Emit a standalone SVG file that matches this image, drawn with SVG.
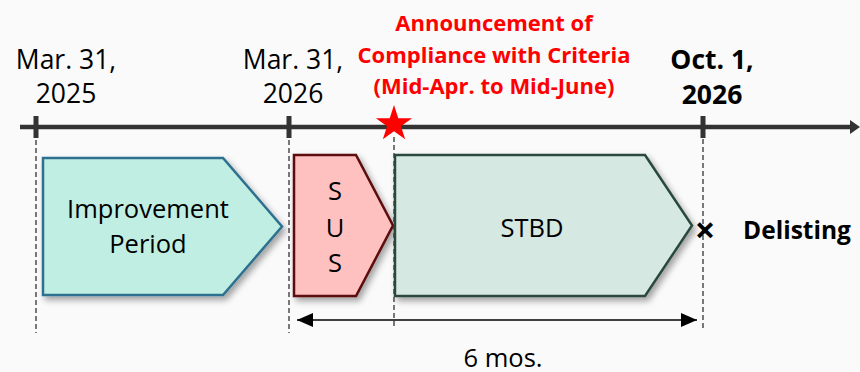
<svg xmlns="http://www.w3.org/2000/svg" width="860" height="372" viewBox="0 0 860 372">
<defs>
<style>
.t{font-family:"Open Sans","Liberation Sans",sans-serif;font-size:25.5px;fill:#000;text-anchor:middle}
.b{font-weight:bold}
.d{font-size:26.5px}
.red{fill:#ff0000;font-weight:bold;font-size:22px}
.dash{stroke:#222;stroke-width:1.2;stroke-dasharray:5 3;fill:none}
.tick{stroke:#333;stroke-width:5}
</style>
<filter id="sh" x="-10%" y="-10%" width="130%" height="130%">
<feDropShadow dx="3" dy="4" stdDeviation="3" flood-color="#000" flood-opacity="0.35"/>
</filter>
<marker id="dim" viewBox="0 0 16 14" refX="16" refY="7" markerWidth="16" markerHeight="14" markerUnits="userSpaceOnUse" orient="auto-start-reverse">
<path d="M0,0 L16,7 L0,14 z" fill="#000"/>
</marker>
</defs>
<rect width="860" height="372" fill="#fafafa"/>

<g id="axis">
<line x1="20" y1="127" x2="852" y2="127" stroke="#333" stroke-width="4.5"/>
<path d="M850,120 L860,127 L850,134 z" fill="#333"/>
<line class="tick" x1="36" y1="116" x2="36" y2="138"/>
<line class="tick" x1="289" y1="116" x2="289" y2="138"/>
<line class="tick" x1="703" y1="116" x2="703" y2="138"/>
</g>

<g id="guides">
<line class="dash" x1="36" y1="140" x2="36" y2="333"/>
<line class="dash" x1="289" y1="140" x2="289" y2="333"/>
<line class="dash" x1="394" y1="137" x2="394" y2="328"/>
<line class="dash" x1="703" y1="139" x2="703" y2="328"/>
</g>

<g id="label-2025">
<text class="t d" x="66" y="69">Mar. 31,</text>
<text class="t d" x="66" y="103">2025</text>
</g>
<g id="label-2026">
<text class="t d" x="293" y="69">Mar. 31,</text>
<text class="t d" x="293" y="103">2026</text>
</g>
<g id="label-oct">
<text class="t b d" x="712" y="69">Oct. 1,</text>
<text class="t b d" x="712" y="104">2026</text>
</g>
<g id="announcement">
<text class="t red" x="494" y="31">Announcement of</text>
<text class="t red" x="494" y="63">Compliance with Criteria</text>
<text class="t red" x="494" y="94">(Mid-Apr. to Mid-June)</text>
<polygon points="394,105 398.27,118.13 412.07,118.13 400.9,126.24 405.17,139.37 394,131.26 382.83,139.37 387.1,126.24 375.93,118.13 389.73,118.13" fill="#ff0000"/>
</g>

<g id="improvement">
<polygon points="43,158 223,158 282,226.5 223,295 43,295" fill="#c0eee2" stroke="#2d7090" stroke-width="2.5" filter="url(#sh)"/>
<text class="t" x="148" y="218">Improvement</text>
<text class="t" x="148" y="253">Period</text>
</g>

<g id="sus">
<polygon points="294,155 356,155 393,225.5 356,296 294,296" fill="#ffc0c0" stroke="#5c0b0b" stroke-width="2.5" filter="url(#sh)"/>
<text class="t" x="335" y="200">S</text>
<text class="t" x="335" y="237">U</text>
<text class="t" x="335" y="272">S</text>
</g>

<g id="stbd">
<polygon points="395,155 645,155 692,225.5 645,296 395,296" fill="#d5e8e2" stroke="#2c4a3e" stroke-width="2.5" filter="url(#sh)"/>
<text class="t" x="532" y="237">STBD</text>
</g>

<g id="delisting">
<text class="t b" x="705" y="243" style="font-size:36px">×</text>
<text class="t b" x="797" y="239" style="font-size:24.5px">Delisting</text>
</g>

<g id="connectors">
<line x1="297" y1="320" x2="697" y2="320" stroke="#000" stroke-width="1.5" marker-start="url(#dim)" marker-end="url(#dim)"/>
</g>
<g id="duration">
<text class="t" x="503" y="367">6 mos.</text>
</g>
</svg>
